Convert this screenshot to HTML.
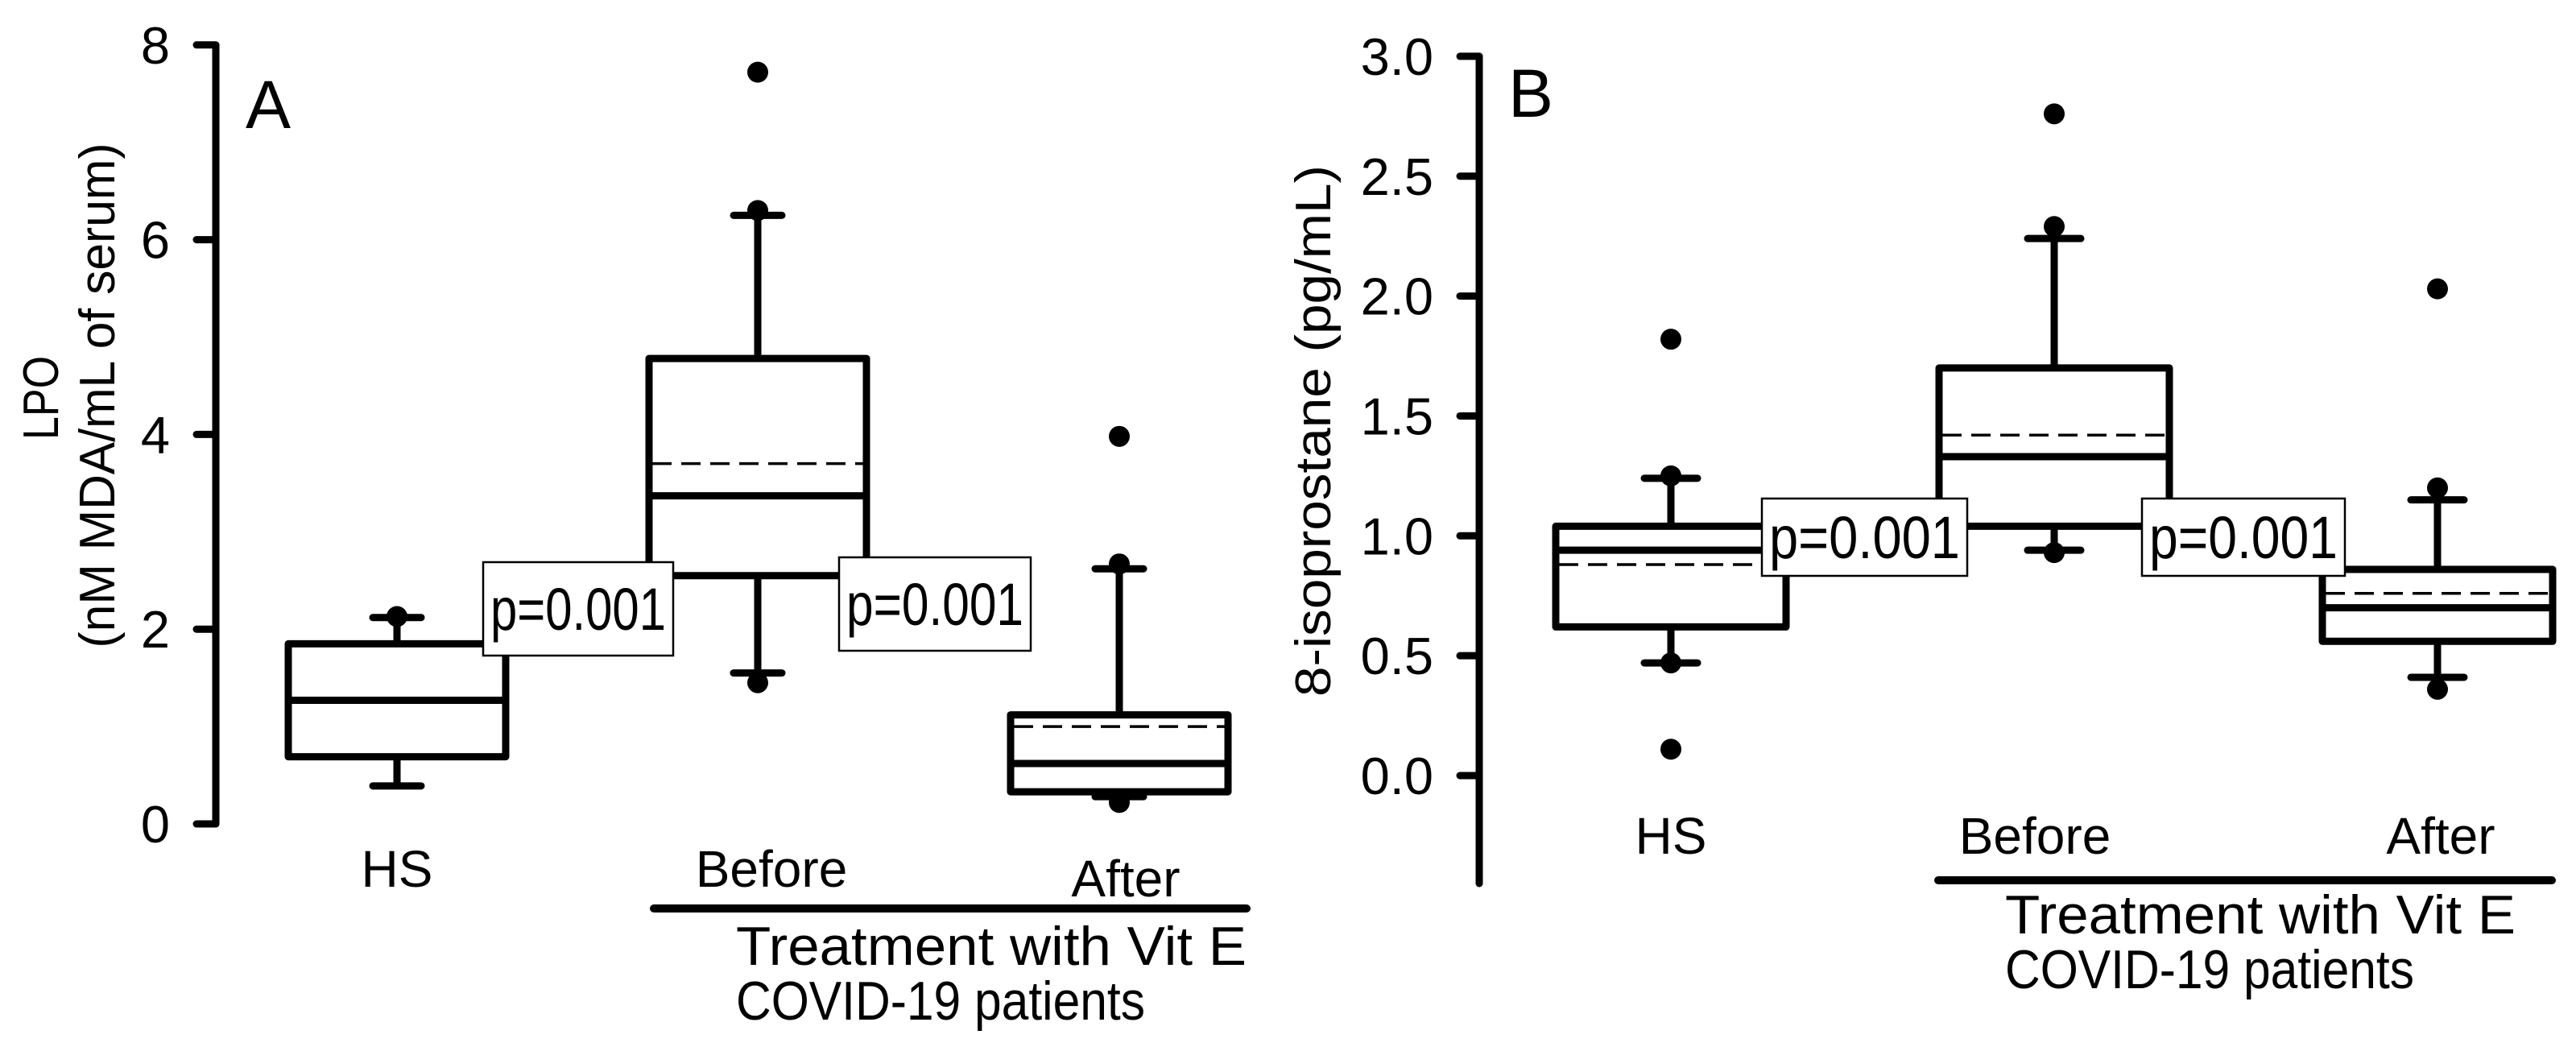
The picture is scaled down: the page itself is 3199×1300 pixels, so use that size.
<!DOCTYPE html>
<html><head><meta charset="utf-8"><style>
html,body{margin:0;padding:0;background:#fff;}
svg{display:block;font-family:"Liberation Sans",Arial,sans-serif;}
</style></head><body>
<svg id="chart" width="3199" height="1300" viewBox="0 0 3199 1300" xmlns="http://www.w3.org/2000/svg"></svg>
<script>
// ---- Panel A data (LPO) ----
const groupsA = ["HS","Before","After"];
const q1A = [0.69, 2.55, 0.33];
const q3A = [1.85, 4.78, 1.12];
const medA = [1.27, 3.37, 0.62];
const meanA = [null, 3.70, 1.00];
const whLoA = [0.39, 1.55, 0.28];
const whHiA = [2.12, 6.25, 2.62];
const outA = [[2.13],[1.45,6.30,7.72],[0.22,2.67,3.98]];
const ticksA = [0,2,4,6,8];
const tickLabelsA = ["0","2","4","6","8"];
// ---- Panel B data (8-isoprostane) ----
const groupsB = ["HS","Before","After"];
const q1B = [0.62, 1.04, 0.56];
const q3B = [1.04, 1.70, 0.86];
const medB = [0.94, 1.33, 0.70];
const meanB = [0.88, 1.42, 0.76];
const whLoB = [0.47, 0.94, 0.41];
const whHiB = [1.24, 2.24, 1.15];
const outB = [[0.11,0.47,1.25,1.82],[0.93,2.29,2.76],[0.36,1.20,2.03]];
const ticksB = [0,0.5,1,1.5,2,2.5,3];
const tickLabelsB = ["0.0","0.5","1.0","1.5","2.0","2.5","3.0"];
const pLabels = ["p=0.001","p=0.001"];

const NS="http://www.w3.org/2000/svg";
const svg=document.getElementById('chart');
function mk(tag,attrs,parent){const e=document.createElementNS(NS,tag);for(const k in attrs)e.setAttribute(k,attrs[k]);(parent||svg).appendChild(e);return e;}
function txt(str,x,y,size,anchor,parent,extra){const t=mk('text',Object.assign({x:x,y:y,'font-size':size,'text-anchor':anchor||'start',fill:'#000'},extra||{}),parent);t.textContent=str;return t;}

function panel(cfg){
  const g=mk('g',{});
  
  
  const y=v=>cfg.y0-v*cfg.k;
  const ax=mk('line',{x1:cfg.axX,y1:cfg.axTop,x2:cfg.axX,y2:cfg.axBot,stroke:'#000','stroke-width':9,'stroke-linecap':'round'},g);
  
  
  cfg.ticks.forEach((t,i)=>{
    const l=mk('line',{x1:cfg.axX-24,y1:y(t),x2:cfg.axX,y2:y(t),stroke:'#000','stroke-width':9,'stroke-linecap':'round'},g);
    
    
    const tl=txt(cfg.tickLabels[i],cfg.axX-57,y(t)+23,65,'end',g);
    
    
  });
  cfg.groups.forEach((name,i)=>{
    const cx=cfg.cx[i],hw=cfg.hw;
    const bg=mk('g',{},g);
    
    
    const sw=9;
    mk('line',{x1:cx,y1:y(cfg.q3[i]),x2:cx,y2:y(cfg.whHi[i]),stroke:'#000','stroke-width':sw},bg);
    mk('line',{x1:cx,y1:y(cfg.q1[i]),x2:cx,y2:y(cfg.whLo[i]),stroke:'#000','stroke-width':sw},bg);
    mk('line',{x1:cx-cfg.cap,y1:y(cfg.whHi[i]),x2:cx+cfg.cap,y2:y(cfg.whHi[i]),stroke:'#000','stroke-width':sw,'stroke-linecap':'round'},bg);
    mk('line',{x1:cx-cfg.cap,y1:y(cfg.whLo[i]),x2:cx+cfg.cap,y2:y(cfg.whLo[i]),stroke:'#000','stroke-width':sw,'stroke-linecap':'round'},bg);
    mk('rect',{x:cx-hw,y:y(cfg.q3[i]),width:2*hw,height:y(cfg.q1[i])-y(cfg.q3[i]),fill:'#fff',stroke:'#000','stroke-width':sw,'stroke-linejoin':'round'},bg);
    mk('line',{x1:cx-hw,y1:y(cfg.med[i]),x2:cx+hw,y2:y(cfg.med[i]),stroke:'#000','stroke-width':sw},bg);
    if(cfg.mean[i]!==null){
      mk('line',{x1:cx-hw+4,y1:y(cfg.mean[i]),x2:cx+hw-4,y2:y(cfg.mean[i]),stroke:'#000','stroke-width':3.5,'stroke-dasharray':'24 12'},bg);
    }
    cfg.out[i].forEach(v=>{
      const c=mk('circle',{cx:cx,cy:y(v),r:13,fill:'#000'},bg);
      
      
    });
    const lab=txt(name,cfg.labX[i],cfg.labY[i],64,'middle',g);
    
    
  });
  cfg.pbox.forEach((p,i)=>{
    const pg=mk('g',{},g);
    
    
    mk('rect',{x:p[0],y:p[1],width:p[2],height:p[3],fill:'#fff',stroke:'#000','stroke-width':2.5},pg);
    txt(pLabels[i],p[0]+p[2]/2,p[1]+p[3]/2+26,74,'middle',pg,{textLength:p[2]-18,lengthAdjust:'spacingAndGlyphs'});
  });
  const gl=mk('line',{x1:cfg.gl[0],y1:cfg.gl[2],x2:cfg.gl[1],y2:cfg.gl[2],stroke:'#000','stroke-width':10,'stroke-linecap':'round'},g);
  
  
  const c1=txt('Treatment with Vit E',cfg.capX,cfg.capY[0],68,'start',g,{textLength:cfg.capW[0],lengthAdjust:'spacingAndGlyphs'});
  
  
  const c2=txt('COVID-19 patients',cfg.capX,cfg.capY[1],68,'start',g,{textLength:cfg.capW[1],lengthAdjust:'spacingAndGlyphs'});
  
  
  const pl=txt(cfg.letter,cfg.letterXY[0],cfg.letterXY[1],84,'start',g);
  
  
  cfg.titles.forEach(t=>{
    const e=txt(t.s,0,0,62,'middle',g,{transform:'translate('+t.x+','+t.y+') rotate(-90)',textLength:t.w,lengthAdjust:'spacingAndGlyphs'});
    
    
  });
}

panel({name:'panel-a-lpo',y0:1023,k:120.9,axX:268,axTop:56,axBot:1023,ticks:ticksA,tickLabels:tickLabelsA,
  groups:groupsA,q1:q1A,q3:q3A,med:medA,mean:meanA,whLo:whLoA,whHi:whHiA,out:outA,
  cx:[493,941,1390],hw:135,cap:30,labX:[493,958,1398],labY:[1101,1101,1113],
  pbox:[[600,698,236,116],[1042,692,238,116]],gl:[812,1548,1128],capX:914,capY:[1198,1266],capW:[634,508],
  letter:'A',letterXY:[305,159],
  titles:[{s:'LPO',x:72,y:494,w:104},{s:'(nM MDA/mL of serum)',x:142,y:491,w:627}]});

panel({name:'panel-b-isoprostane',y0:963,k:297.7,axX:1837,axTop:70,axBot:1097,ticks:ticksB,tickLabels:tickLabelsB,
  groups:groupsB,q1:q1B,q3:q3B,med:medB,mean:meanB,whLo:whLoB,whHi:whHiB,out:outB,
  cx:[2075,2551,3027],hw:143,cap:33,labX:[2075,2527,3031],labY:[1060,1060,1060],
  pbox:[[2188,619,255,96],[2660,619,252,96]],gl:[2407,3169,1093],capX:2490,capY:[1159,1227],capW:[634,508],
  letter:'B',letterXY:[1873,145],
  titles:[{s:'8-isoprostane (pg/mL)',x:1652,y:535,w:660}]});
</script>
</body></html>
